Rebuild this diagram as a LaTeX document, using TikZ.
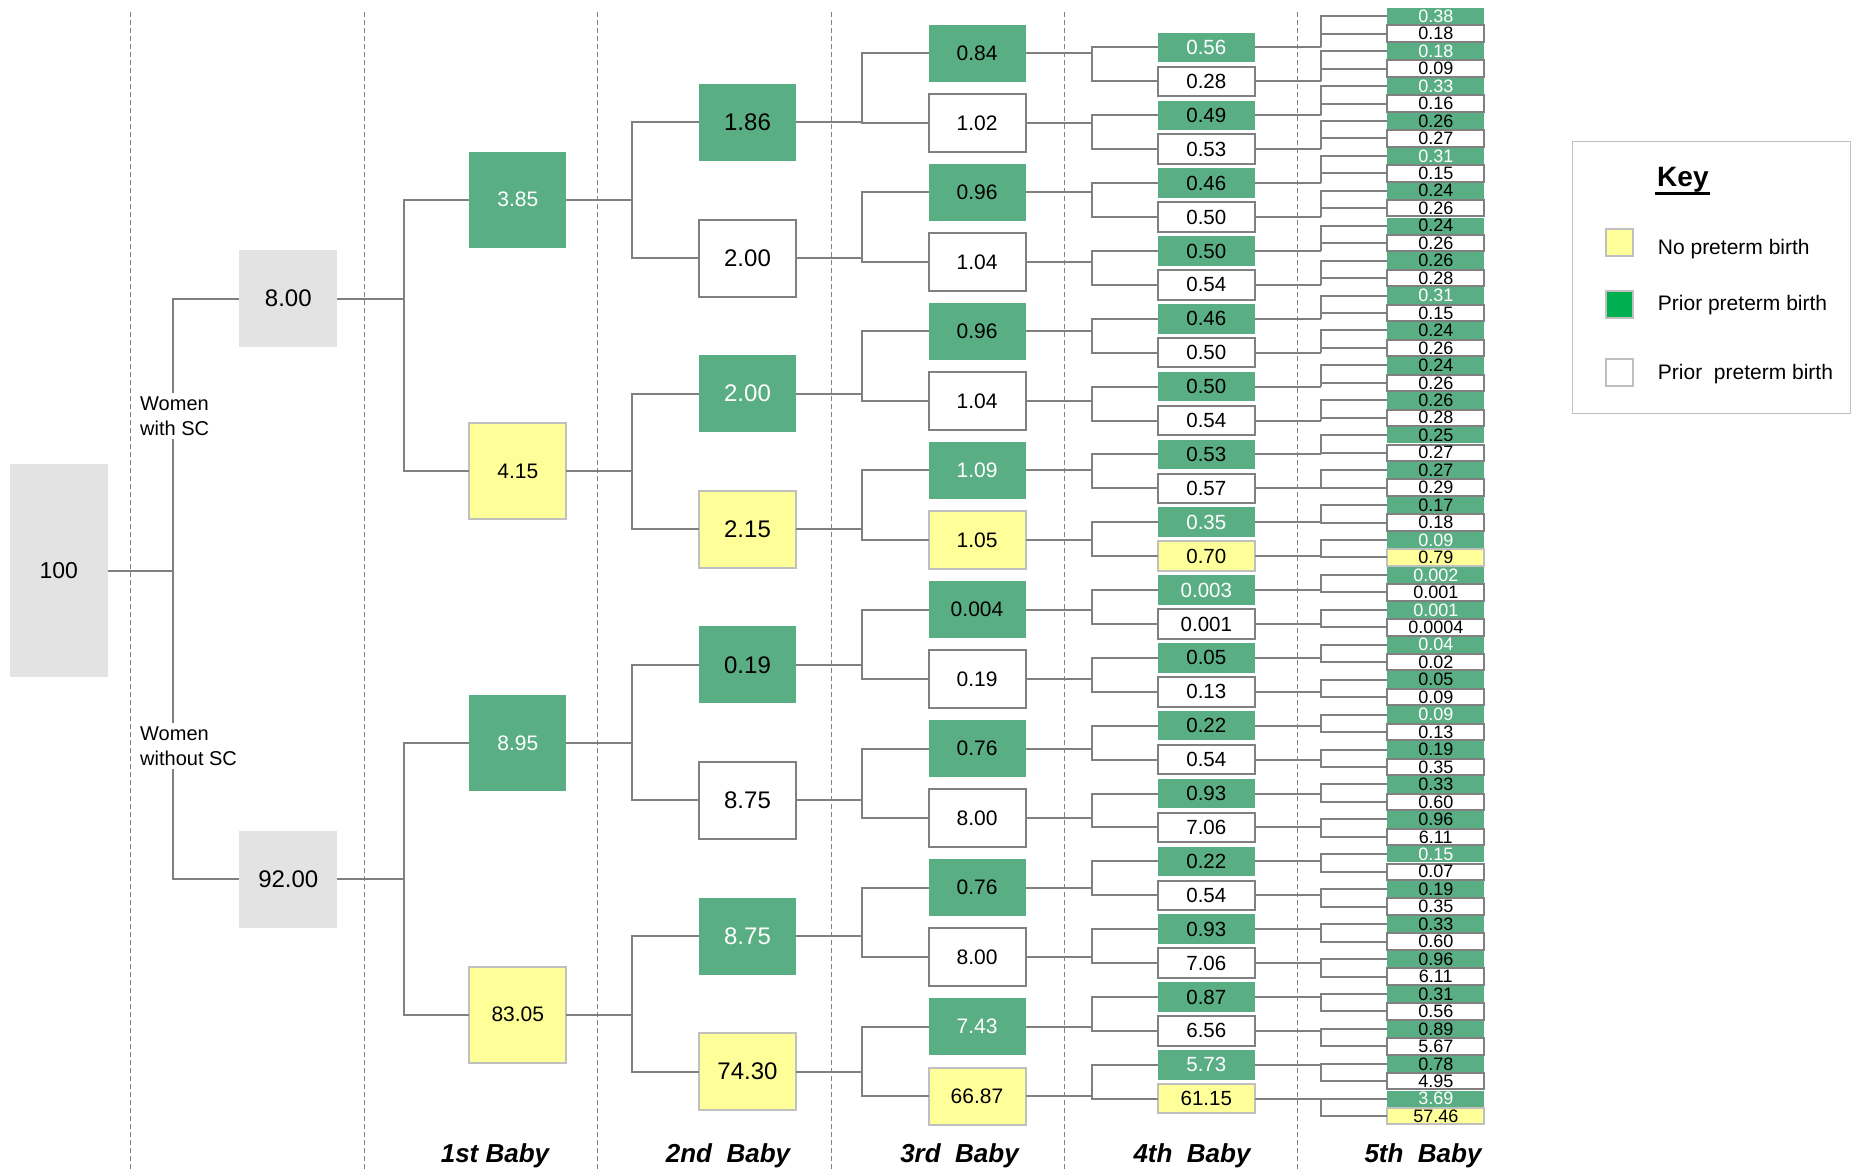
\documentclass[tikz,border=0pt]{standalone}
\usepackage{fontspec}
\setmainfont{Liberation Sans}
\definecolor{gfill}{RGB}{90,174,132}
\definecolor{yfill}{RGB}{255,255,153}
\definecolor{gline}{RGB}{128,128,128}
\definecolor{bgray}{RGB}{227,227,227}
\definecolor{ylline}{RGB}{192,192,192}
\definecolor{keyline}{RGB}{192,192,192}
\definecolor{keygreen}{RGB}{0,176,80}
\newcommand{\fsz}[1]{\fontsize{#1}{#1}\selectfont}
\begin{document}
\begin{tikzpicture}[x=1pt,y=-1pt,
  conn/.style={draw=gline, line width=2pt},
  dashln/.style={draw=gline, line width=1.2pt, dash pattern=on 5pt off 3pt},
  bx/.style={rectangle, inner sep=0pt, outer sep=0pt},
  gbx/.style={bx, fill=gfill, text=black},
  gwbx/.style={bx, fill=gfill, text=white},
  wbx/.style={bx, fill=white, draw=gline, line width=2pt, text=black},
  ybx/.style={bx, fill=yfill, draw=ylline, line width=2pt, text=black},
  graybx/.style={bx, fill=bgray, text=black},
  Lone/.style={minimum width=97pt, minimum height=96pt, font=\fsz{21}},
  Ltwo/.style={minimum width=97pt, minimum height=77pt, font=\fsz{24}},
  Lthree/.style={minimum width=97pt, minimum height=57.5pt, font=\fsz{21}},
  Lfour/.style={minimum width=97pt, minimum height=29.5pt, font=\fsz{20.5}},
  Lfive/.style={minimum width=97pt, minimum height=16.4pt, font=\fsz{18}},
  wlab/.style={anchor=west, fill=white, align=left, inner xsep=3pt, inner ysep=4pt, font=\fontsize{20}{25}\selectfont},
  babylab/.style={anchor=base, font=\bfseries\itshape\fsz{26}},
  keytxt/.style={anchor=base west, inner sep=0pt, font=\fsz{21}},
  swatch/.style={bx, draw=keyline, line width=2pt, minimum size=27pt}
]
\useasboundingbox (0,0) rectangle (1862,1172);

% column separators
\foreach \x in {130.7,364.5,597.7,831.4,1064.5,1297.7}
  \draw[dashln] (\x,12) -- (\x,1172);

% vertical connector positions
\coordinate (V0) at (173,0);
\coordinate (V1) at (403.8,0);
\coordinate (V2) at (632.3,0);
\coordinate (V3) at (862,0);
\coordinate (V4) at (1091.7,0);
\coordinate (V5) at (1321,0);

% root and groups
\node[graybx, minimum width=97.7pt, minimum height=212.4pt, font=\fsz{23}] (a0) at (58.85,570.5) {100};
\node[graybx, minimum width=98pt, minimum height=97pt, font=\fsz{24}] (b1) at (288.3,298.7) {8.00};
\node[graybx, minimum width=98pt, minimum height=97pt, font=\fsz{24}] (b2) at (288.3,879.3) {92.00};

% 1st baby
\foreach \s/\t [count=\i] in {gwbx/3.85, ybx/4.15, gwbx/8.95, ybx/83.05}
  \node[\s, Lone] (c\i) at (517.8,{199.5+271.7*(\i-1)}) {\t};

% 2nd baby
\foreach \s/\t [count=\i] in {gbx/1.86, wbx/2.00, gwbx/2.00, ybx/2.15, gbx/0.19, wbx/8.75, gwbx/8.75, ybx/74.30}
  \node[\s, Ltwo] (d\i) at (747.5,{122.4+135.6*(\i-1)}) {\t};

% 3rd baby
\foreach \s/\t [count=\i] in {gbx/0.84, wbx/1.02, gbx/0.96, wbx/1.04, gbx/0.96, wbx/1.04, gwbx/1.09, ybx/1.05,
  gbx/0.004, wbx/0.19, gbx/0.76, wbx/8.00, gbx/0.76, wbx/8.00, gwbx/7.43, ybx/66.87}
  \node[\s, Lthree] (e\i) at (977,{53.3+69.53*(\i-1)}) {\t};

% 4th baby
\foreach \s/\t [count=\i] in {gwbx/0.56, wbx/0.28, gbx/0.49, wbx/0.53, gbx/0.46, wbx/0.50, gbx/0.50, wbx/0.54,
  gbx/0.46, wbx/0.50, gbx/0.50, wbx/0.54, gbx/0.53, wbx/0.57, gwbx/0.35, ybx/0.70,
  gwbx/0.003, wbx/0.001, gbx/0.05, wbx/0.13, gbx/0.22, wbx/0.54, gbx/0.93, wbx/7.06,
  gbx/0.22, wbx/0.54, gbx/0.93, wbx/7.06, gbx/0.87, wbx/6.56, gwbx/5.73, ybx/61.15}
  \node[\s, Lfour] (f\i) at (1206.3,{47.5+33.91*(\i-1)}) {\t};

% 5th baby
\foreach \s/\t [count=\i] in {gwbx/0.38, wbx/0.18, gwbx/0.18, wbx/0.09, gwbx/0.33, wbx/0.16, gbx/0.26, wbx/0.27,
  gwbx/0.31, wbx/0.15, gbx/0.24, wbx/0.26, gbx/0.24, wbx/0.26, gbx/0.26, wbx/0.28,
  gwbx/0.31, wbx/0.15, gbx/0.24, wbx/0.26, gbx/0.24, wbx/0.26, gbx/0.26, wbx/0.28,
  gbx/0.25, wbx/0.27, gbx/0.27, wbx/0.29, gbx/0.17, wbx/0.18, gwbx/0.09, ybx/0.79,
  gwbx/0.002, wbx/0.001, gwbx/0.001, wbx/0.0004, gwbx/0.04, wbx/0.02, gbx/0.05, wbx/0.09,
  gwbx/0.09, wbx/0.13, gbx/0.19, wbx/0.35, gbx/0.33, wbx/0.60, gbx/0.96, wbx/6.11,
  gwbx/0.15, wbx/0.07, gbx/0.19, wbx/0.35, gbx/0.33, wbx/0.60, gbx/0.96, wbx/6.11,
  gbx/0.31, wbx/0.56, gbx/0.89, wbx/5.67, gbx/0.78, wbx/4.95, gwbx/3.69, ybx/57.46}
  \node[\s, Lfive] (g\i) at (1435.8,{16.2+17.46*(\i-1)}) {\t};

% connectors
\draw[conn] (a0.east) -- (a0.east -| V0) (b1.west) -| (a0.east -| V0) |- (b2.west);
\foreach \i in {1,2} {
  \pgfmathtruncatemacro\ca{2*\i-1}\pgfmathtruncatemacro\cb{2*\i}
  \draw[conn] (b\i.east) -- (b\i.east -| V1) (c\ca.west) -| (b\i.east -| V1) |- (c\cb.west);
}
\foreach \i in {1,...,4} {
  \pgfmathtruncatemacro\ca{2*\i-1}\pgfmathtruncatemacro\cb{2*\i}
  \draw[conn] (c\i.east) -- (c\i.east -| V2) (d\ca.west) -| (c\i.east -| V2) |- (d\cb.west);
}
\foreach \i in {1,...,8} {
  \pgfmathtruncatemacro\ca{2*\i-1}\pgfmathtruncatemacro\cb{2*\i}
  \draw[conn] (d\i.east) -- (d\i.east -| V3) (e\ca.west) -| (d\i.east -| V3) |- (e\cb.west);
}
\foreach \i in {1,...,16} {
  \pgfmathtruncatemacro\ca{2*\i-1}\pgfmathtruncatemacro\cb{2*\i}
  \draw[conn] (e\i.east) -- (e\i.east -| V4) (f\ca.west) -| (e\i.east -| V4) |- (f\cb.west);
}
\foreach \i in {1,...,32} {
  \pgfmathtruncatemacro\ca{2*\i-1}\pgfmathtruncatemacro\cb{2*\i}
  \draw[conn] (f\i.east) -- (f\i.east -| V5) (g\ca.west) -| (f\i.east -| V5) |- (g\cb.west);
}

% branch labels
\node[wlab] (lsc) at (137,416) {Women\\with SC};
\node[wlab] (lnsc) at (137,746) {Women\\without SC};

% bottom labels
\node[babylab] (bb1) at (495,1162) {1st Baby};
\node[babylab] (bb2) at (728,1162) {2nd~ Baby};
\node[babylab] (bb3) at (959.5,1162) {3rd~ Baby};
\node[babylab] (bb4) at (1192,1162) {4th~ Baby};
\node[babylab] (bb5) at (1423,1162) {5th~ Baby};

% key
\node[bx, draw=keyline, line width=1.5pt, minimum width=278.4pt, minimum height=271.6pt] (key) at (1711.5,277.5) {};
\node[anchor=base west, inner sep=0pt, font=\bfseries\fsz{28}] (keyt) at (1657,186.7) {Key};
\draw[line width=3pt] ([yshift=-6.5pt,xshift=-2pt]keyt.base west) -- ([yshift=-6.5pt,xshift=1pt]keyt.base east);
\node[swatch, fill=yfill] (sw1) at (1619.7,242.2) {};
\node[swatch, fill=keygreen] (sw2) at (1619.7,304.5) {};
\node[swatch, fill=white] (sw3) at (1619.7,372.7) {};
\node[keytxt] (kt1) at (1657.7,254) {No preterm birth};
\node[keytxt] (kt2) at (1657.7,310) {Prior preterm birth};
\node[keytxt] (kt3) at (1657.7,379.3) {Prior~ preterm birth};
\end{tikzpicture}
\end{document}
